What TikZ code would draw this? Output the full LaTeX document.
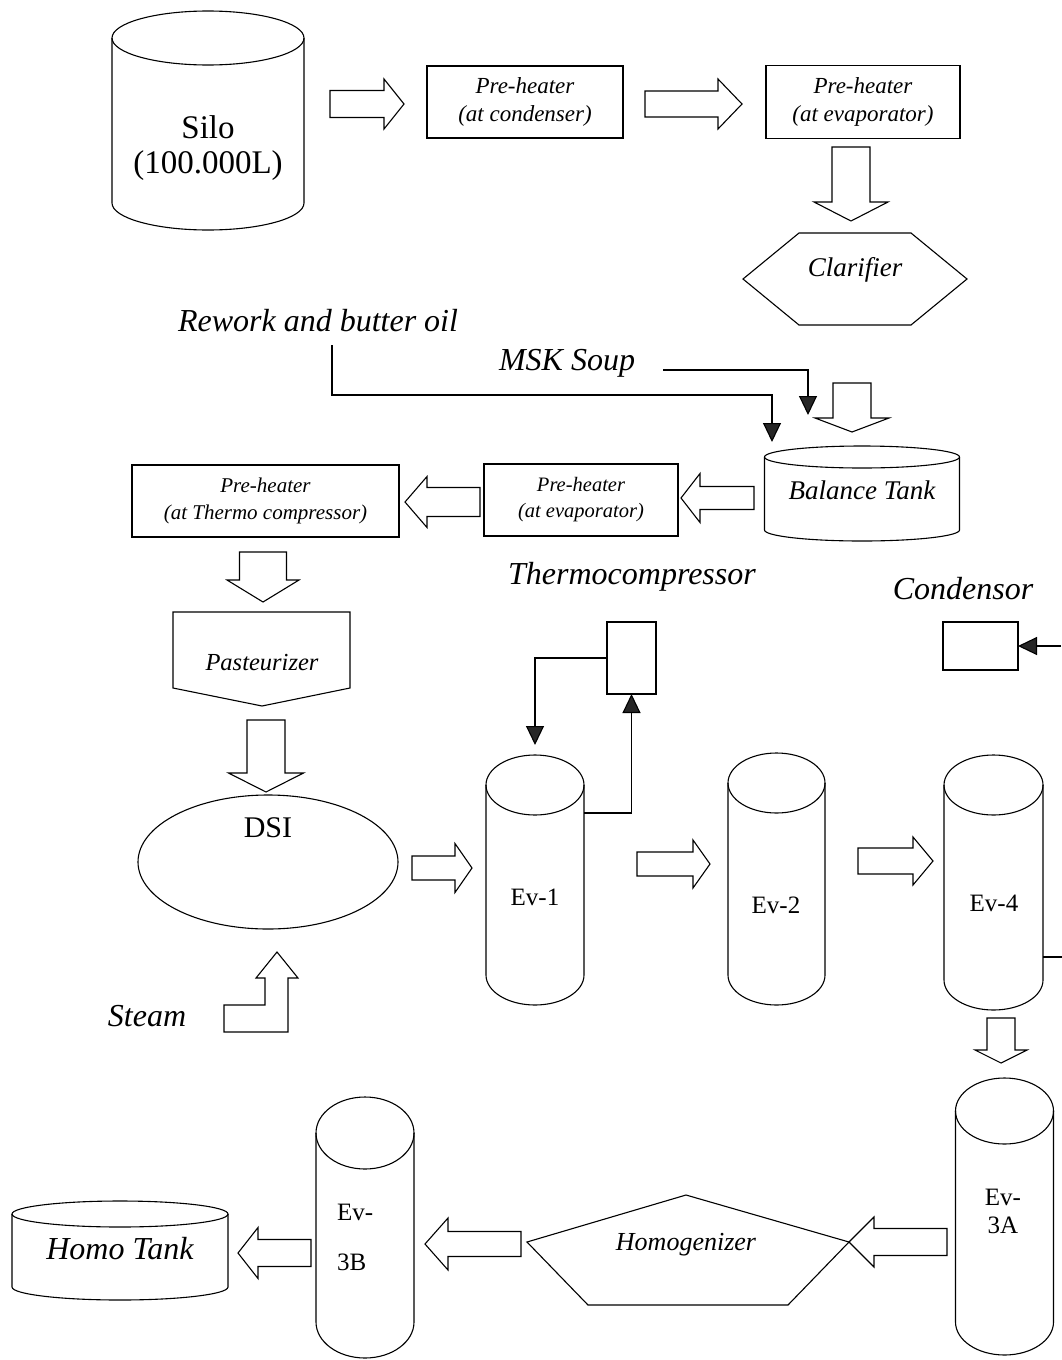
\documentclass[tikz,border=0pt]{standalone}
\usepackage{fontspec}
\setmainfont{Liberation Serif}
\usetikzlibrary{calc,arrows.meta}

% hollow block arrow: tail, tip, shaft half-width, head half-width, head length
\newcommand{\fatarrow}[5]{%
  \coordinate (fa-h) at ($(#2)!#5!(#1)$);
  \draw[blockarrow] ($(#1)!#3!90:(#2)$) -- ($(fa-h)!#3!90:(#2)$) -- ($(fa-h)!#4!90:(#2)$) -- (#2)
    -- ($(fa-h)!#4!-90:(#2)$) -- ($(fa-h)!#3!-90:(#2)$) -- ($(#1)!#3!-90:(#2)$) -- cycle;
}
% upright drum: centre x, top ellipse y, bottom ellipse y, x radius, y radius, node name
\newcommand{\drum}[6]{%
  \draw[outline] ({#1-#4},#2) -- ({#1-#4},#3) arc[start angle=180,end angle=360,x radius=#4pt,y radius=#5pt] -- ({#1+#4},#2);
  \draw[outline] (#1,#2) ellipse[x radius=#4pt, y radius=#5pt];
  \node[minimum width={2*#4*1pt}, minimum height={(#3-#2)*1pt}] (#6) at (#1,{(#2+#3)/2}) {};
}

\begin{document}
\begin{tikzpicture}[x=1pt,y=-1pt,
  every node/.style={inner sep=0pt, outer sep=0pt},
  outline/.style={draw=black, line width=1.1pt, line join=miter},
  blockarrow/.style={draw=black, line width=1.1pt, fill=white, line join=miter},
  feed/.style={draw=black, line width=1.1pt, -{Triangle[length=19pt,width=18pt,fill=black!85]}},
  biglbl/.style={font=\fontsize{32}{38}\selectfont\itshape},
  boxlbl/.style={font=\fontsize{27}{32}\selectfont\itshape},
  evlbl/.style={font=\fontsize{25}{30}\selectfont},
  phbox/.style={outline, align=center}
]
\useasboundingbox (0,0) rectangle (1061,1360);
\fill[white] (0,0) rectangle (1061,1360);

% ---- raw milk line ----
\drum{208}{38}{203}{96}{27}{silo}
\node[font=\fontsize{33}{40}\selectfont] (silotxt) at (208,127) {Silo};
\node[font=\fontsize{33}{40}\selectfont] (silocap) at (208,166) {(100.000L)};

\fatarrow{330,104}{404,104}{13.5pt}{25pt}{20pt}
\node[phbox, minimum width=196pt, minimum height=72pt, font=\fontsize{23}{28}\selectfont\itshape] (ph1) at (525,102) {Pre-heater\\(at condenser)};
\fatarrow{645,104}{742,104}{13pt}{25pt}{24pt}
\node[phbox, minimum width=194pt, minimum height=73pt, font=\fontsize{23}{28}\selectfont\itshape] (ph2) at (863,102) {Pre-heater\\(at evaporator)};
\fatarrow{851,147}{851,221}{19pt}{37pt}{19pt}

\draw[outline] (743,279) -- (799,233) -- (911,233) -- (967,279) -- (911,325) -- (799,325) -- cycle;
\node[boxlbl] (clar) at (855,270) {Clarifier};

% ---- balance tank and feeds ----
\node[biglbl] (rework) at (318,321) {Rework and butter oil};
\node[biglbl] (msk) at (567,363) {MSK Soup};
\draw[feed] (332,345) |- (772,395) -- (772,442);
\draw[feed] (663,370) -| (808,415);
\fatarrow{852,383}{852,432}{19pt}{37pt}{14pt}

\drum{862}{457}{530}{97.5}{11}{balance}
\node[boxlbl] (baltxt) at (862,490) {Balance Tank};

\fatarrow{754,498}{681,498}{11.5pt}{24.5pt}{19pt}
\node[phbox, minimum width=194pt, minimum height=72pt, font=\fontsize{20.5}{26}\selectfont\itshape] (ph3) at (581,500) {Pre-heater\\(at evaporator)};
\fatarrow{480,502}{405,502}{14.5pt}{25.5pt}{22pt}
\node[phbox, minimum width=267pt, minimum height=72pt, font=\fontsize{21}{27}\selectfont\itshape] (ph4) at (265.5,501) {Pre-heater\\(at Thermo compressor)};
\fatarrow{263,552}{263,602}{23.5pt}{36pt}{22pt}

% ---- pasteurizer and DSI ----
\draw[outline] (173,612) -- (350,612) -- (350,688) -- (262,706) -- (173,688) -- cycle;
\node[font=\fontsize{24.5}{30}\selectfont\itshape] (past) at (262,663) {Pasteurizer};
\fatarrow{266,720}{266,792}{19pt}{37.5pt}{19pt}

\draw[outline] (268,862) ellipse[x radius=130pt, y radius=67pt];
\node[font=\fontsize{30}{36}\selectfont] (dsi) at (268,828) {DSI};

\draw[blockarrow] (224,1032) -- (224,1005) -- (265,1005) -- (265,978) -- (256,978) -- (277,952)
  -- (298,978) -- (288,978) -- (288,1032) -- cycle;
\node[biglbl] (steam) at (147,1016) {Steam};

% ---- evaporators ----
\node[biglbl] (tclbl) at (632,577) {Thermocompressor};
\node[outline, minimum width=49pt, minimum height=72pt] (thermo) at (631.5,658) {};
\node[biglbl] (condlbl) at (963,589) {Condensor};
\node[outline, minimum width=75pt, minimum height=48pt] (cond) at (980.5,646) {};
\draw[feed] (1061,646) -- (cond.east);

\fatarrow{412,868}{472,868}{12pt}{24.5pt}{17pt}
\drum{535}{785}{975}{49}{30}{ev1}
\node[evlbl] (ev1txt) at (535,897) {Ev-1};
\draw[feed] ($(ev1.north east)+(0,28)$) -| (thermo.south);
\draw[feed] (thermo.west) -| ($(ev1.north)+(0,-40)$);

\fatarrow{637,864}{710,864}{12pt}{24pt}{17pt}
\drum{776.5}{783}{975}{48.5}{30}{ev2}
\node[evlbl] (ev2txt) at (776,905) {Ev-2};

\fatarrow{858,861}{933,861}{13pt}{24pt}{20pt}
\drum{993.5}{785}{980}{49.5}{30}{ev4}
\node[evlbl] (ev4txt) at (994,903) {Ev-4};
\draw[outline] ($(ev4.south east)+(0,-23)$) -- ++(20,0);

\fatarrow{1001,1018}{1001,1063}{14pt}{26pt}{13pt}
\drum{1004.5}{1111}{1322}{49}{33}{ev3a}
\node[evlbl] (ev3atxt) at (1003,1197) {Ev-};
\node[evlbl] (ev3atxtb) at (1003,1225) {3A};

% ---- homogenizer and homo tank ----
\fatarrow{947,1242}{849,1242}{13.5pt}{25pt}{25pt}
\draw[outline] (527,1242) -- (686,1195) -- (849,1242) -- (788,1305) -- (588,1305) -- cycle;
\node[font=\fontsize{26}{32}\selectfont\itshape] (homog) at (686,1245) {Homogenizer};

\fatarrow{521,1244}{425,1244}{12.5pt}{26pt}{23pt}
\drum{365}{1133}{1322}{49}{36}{ev3b}
\node[evlbl, anchor=west] (ev3btxt) at (337,1212) {Ev-};
\node[evlbl, anchor=west] (ev3btxtb) at (337,1262) {3B};

\fatarrow{311,1253}{238,1253}{13.5pt}{25.5pt}{20pt}
\drum{120}{1214}{1287}{108}{13}{homotank}
\node[biglbl] (homotxt) at (120,1249) {Homo Tank};
\end{tikzpicture}
\end{document}
